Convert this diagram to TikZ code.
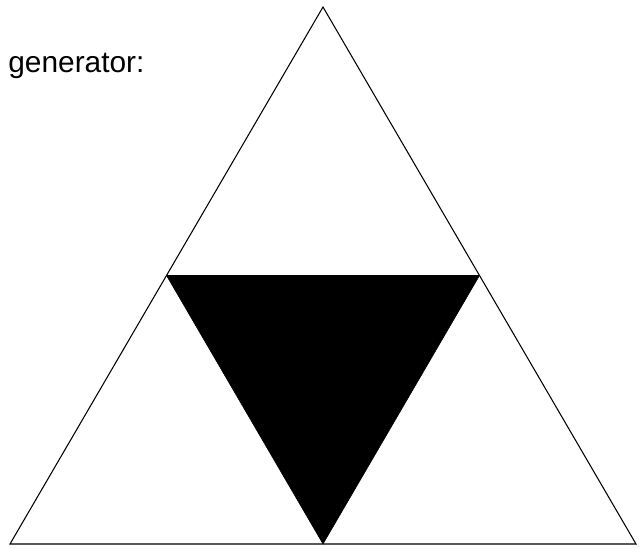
\documentclass[tikz,border=0pt]{standalone}
\usepackage{fontspec}
\setmainfont{Liberation Sans}
\usepackage{tikz}
\usetikzlibrary{positioning, calc}

\begin{document}
\begin{tikzpicture}[
    x=0.02cm, y=-0.02cm,
    every node/.style={font=\fontsize{17}{20}\selectfont},
    edge/.style={draw=black, line width=0.6pt, line join=miter},
    hole/.style={fill=black, draw=black, line width=0.3pt}
]
\useasboundingbox (0,0) rectangle (642,548);

% outer triangle
\coordinate (top) at (323,7);
\coordinate (botleft) at (10,544);
\coordinate (botright) at (636,544);
% midpoints
\coordinate (midleft) at ($(top)!0.5!(botleft)$);
\coordinate (midright) at ($(top)!0.5!(botright)$);
\coordinate (midbot) at ($(botleft)!0.5!(botright)$);

\draw[hole] (midleft) -- (midright) -- (midbot) -- cycle;
\draw[edge] (top) -- (botright) -- (botleft) -- cycle;

\node[anchor=base west, inner sep=0pt] (label) at (8,72) {generator:};
\end{tikzpicture}
\end{document}
